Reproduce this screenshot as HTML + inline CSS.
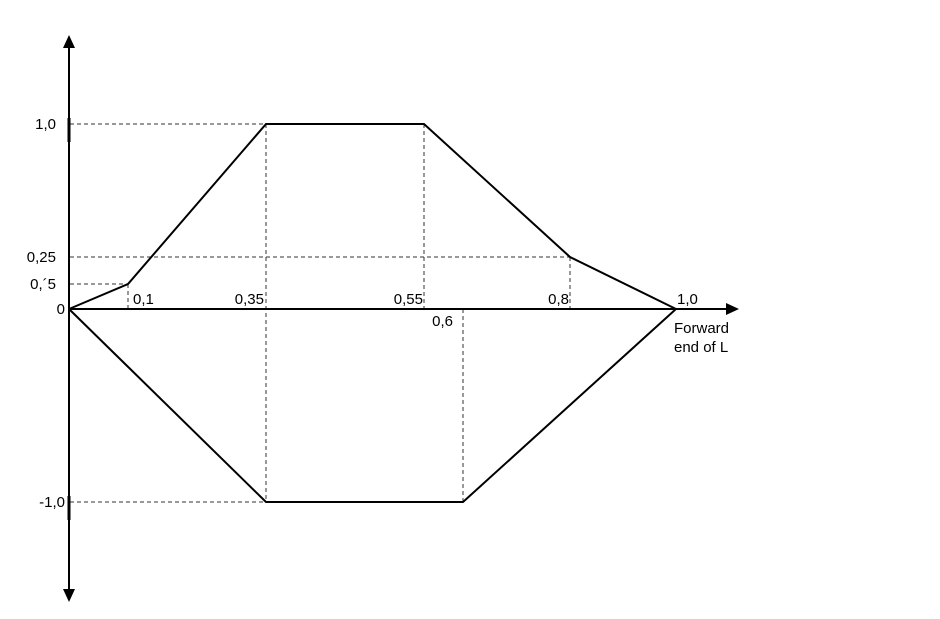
<!DOCTYPE html>
<html><head><meta charset="utf-8"><style>
html,body{margin:0;padding:0;background:#fff;}
svg{display:block;}
text{font-family:"Liberation Sans",Arial,sans-serif;font-size:15px;fill:#000;}
</style></head><body>
<svg width="940" height="619" viewBox="0 0 940 619" xmlns="http://www.w3.org/2000/svg">
<g stroke="#333" stroke-width="1" stroke-dasharray="4,3" fill="none">
<line x1="70" y1="124" x2="266" y2="124"/>
<line x1="70" y1="257" x2="570" y2="257"/>
<line x1="70" y1="284" x2="128" y2="284"/>
<line x1="70" y1="502" x2="266" y2="502"/>
<line x1="128" y1="284" x2="128" y2="309"/>
<line x1="266" y1="124" x2="266" y2="502"/>
<line x1="424" y1="124" x2="424" y2="309"/>
<line x1="570" y1="257" x2="570" y2="309"/>
<line x1="463" y1="309" x2="463" y2="502"/>
</g>
<g stroke="#000" stroke-width="2" fill="none">
<line x1="69" y1="45" x2="69" y2="592"/>
<line x1="69" y1="309" x2="728" y2="309"/>
<polyline points="69,309 128,284 266,124 424,124 570,257 676,309" />
<polyline points="69,309 266,502 463,502 676,309" />
</g>
<g stroke="#000" stroke-width="3">
<line x1="69" y1="118" x2="69" y2="142"/>
<line x1="69" y1="496" x2="69" y2="520"/>
</g>
<polygon points="69,35 63,48 75,48" fill="#000"/>
<polygon points="69,602 63,589 75,589" fill="#000"/>
<polygon points="739,309 726,303 726,315" fill="#000"/>
<text x="56" y="129" text-anchor="end">1,0</text>
<text x="56" y="262" text-anchor="end">0,25</text>
<text x="56" y="289" text-anchor="end">0,´5</text>
<text x="65" y="314" text-anchor="end">0</text>
<text x="65" y="507" text-anchor="end">-1,0</text>
<text x="133" y="304">0,1</text>
<text x="264" y="304" text-anchor="end">0,35</text>
<text x="423" y="304" text-anchor="end">0,55</text>
<text x="453" y="326" text-anchor="end">0,6</text>
<text x="569" y="304" text-anchor="end">0,8</text>
<text x="677" y="304">1,0</text>
<text x="674" y="333">Forward</text>
<text x="674" y="352">end of L</text>
</svg>
</body></html>
